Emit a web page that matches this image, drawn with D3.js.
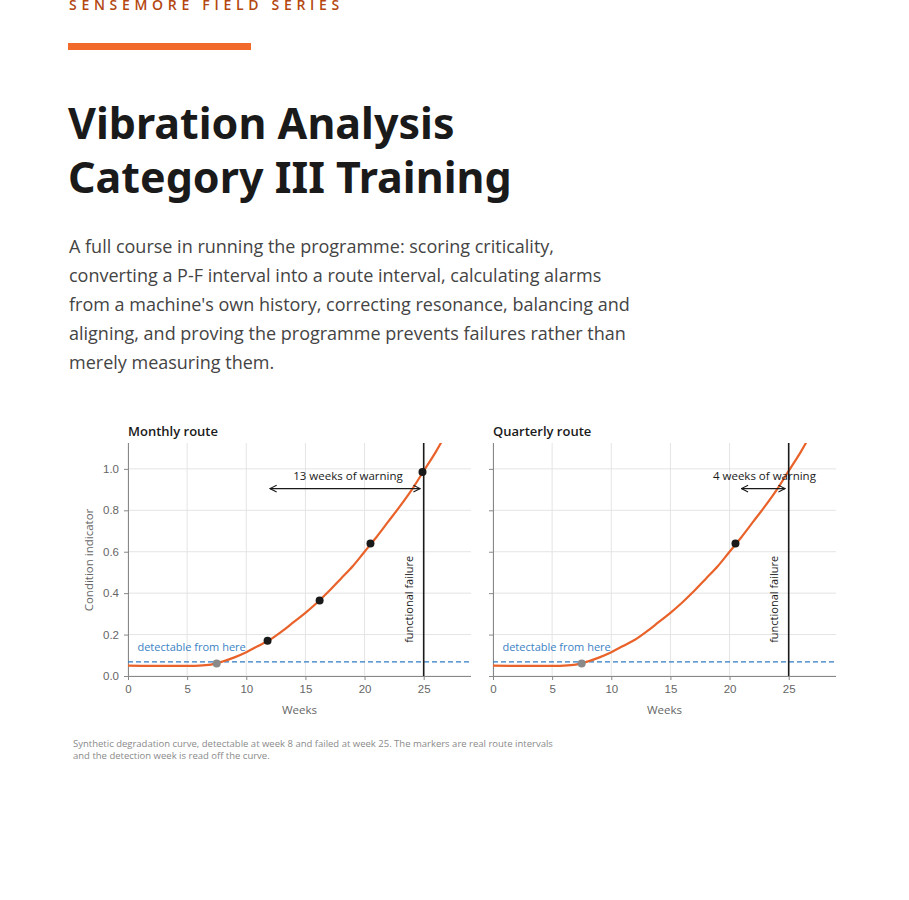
<!DOCTYPE html>
<html><head><meta charset="utf-8">
<script src="https://cdn.jsdelivr.net/npm/d3@7"></script>
<style>
body{margin:0;background:#fff;font-family:"Open Sans","Noto Sans",sans-serif;width:909px;height:900px;position:relative;overflow:hidden}
.eyebrow{position:absolute;left:69px;top:-4px;font-size:14px;letter-spacing:4.7px;color:#b3470f;font-weight:600;line-height:18px}
.bar{position:absolute;left:68px;top:43px;width:183px;height:7px;background:#f26a2a}
h1{position:absolute;left:68px;top:96px;margin:0;font-size:43px;line-height:54px;font-weight:700;color:#1a1a1a;font-family:"Noto Sans","Open Sans",sans-serif}
p{position:absolute;left:69px;top:232px;margin:0;font-size:18px;line-height:29px;color:#444;width:620px}
svg{position:absolute;left:0;top:0}
</style></head><body>
<div class="eyebrow">SENSEMORE FIELD SERIES</div>
<div class="bar"></div>
<h1>Vibration Analysis<br>Category III Training</h1>
<p>A full course in running the programme: scoring criticality,<br>converting a P-F interval into a route interval, calculating alarms<br>from a machine's own history, correcting resonance, balancing and<br>aligning, and proving the programme prevents failures rather than<br>merely measuring them.</p>
<svg id="c" width="909" height="900"></svg>
<script>
// degradation curve
var curveWeeks = [0, 6, 7, 8, 9, 10, 11, 12, 13, 14, 15, 16, 17, 18, 19, 20, 21, 22, 23, 24, 25, 26, 26.6];
var curveValues = [0.05, 0.05, 0.055, 0.07, 0.09, 0.115, 0.145, 0.175, 0.215, 0.26, 0.305, 0.355, 0.41, 0.47, 0.53, 0.6, 0.67, 0.745, 0.82, 0.9, 0.99, 1.08, 1.14];
var panelTitles = ["Monthly route", "Quarterly route"];
var routeWeeks = [[11.8, 16.2, 20.5, 24.9], [20.5]];
var routeValues = [[0.17, 0.365, 0.64, 0.985], [0.64]];
var warningFrom = [12, 21];
var warningLabels = ["13 weeks of warning", "4 weeks of warning"];
var detectWeek = 7.5, detectValue = 0.06, threshold = 0.068, failWeek = 25;
var xTicks = [0, 5, 10, 15, 20, 25], yTicks = [0, 0.2, 0.4, 0.6, 0.8, 1.0];

var svg = d3.select("#c");
var pts = curveWeeks.map(function(w, i) { return [w, curveValues[i]]; });
var offsets = [128, 493];

svg.append("defs").append("marker").attr("id", "ah").attr("viewBox", "0 0 10 10")
  .attr("refX", 9).attr("refY", 5).attr("markerWidth", 7).attr("markerHeight", 7)
  .attr("orient", "auto-start-reverse")
  .append("path").attr("d", "M1,1L9,5L1,9").attr("fill", "none").attr("stroke", "#1a1a1a").attr("stroke-width", 1.3);

offsets.forEach(function(left, p) {
  var x = d3.scaleLinear().domain([0, 29]).range([left, left + 343]);
  var y = d3.scaleLinear().domain([0, 1.125]).range([676, 443]);
  var g = svg.append("g").style("font-family", "'Open Sans','Noto Sans',sans-serif");
  var clip = "clip" + p;
  g.append("clipPath").attr("id", clip).append("rect")
    .attr("x", x(0)).attr("y", y(1.125)).attr("width", x(29) - x(0)).attr("height", y(0) - y(1.125));

  g.selectAll(".gx").data(xTicks).join("line").attr("x1", x).attr("x2", x)
    .attr("y1", y(0)).attr("y2", y(1.125)).attr("stroke", "#e4e4e4");
  g.selectAll(".gy").data(yTicks).join("line").attr("y1", y).attr("y2", y)
    .attr("x1", x(0)).attr("x2", x(29)).attr("stroke", "#e4e4e4");

  var ax = g.append("g").attr("transform", "translate(0," + y(0) + ")")
    .call(d3.axisBottom(x).tickValues(xTicks).tickSize(4).tickPadding(5));
  var ay = g.append("g").attr("transform", "translate(" + x(0) + ",0)")
    .call(d3.axisLeft(y).tickValues(yTicks).tickSize(4).tickPadding(5).tickFormat(p ? "" : d3.format(".1f")));
  [ax, ay].forEach(function(a) {
    a.selectAll("path,line").attr("stroke", "#888");
    a.selectAll("text").attr("fill", "#666").style("font-size", "11.5px");
  });
  ay.select(".domain").attr("d", "M0.5," + y(0) + "V" + y(1.125));
  ax.select(".domain").attr("d", "M" + x(0) + ",0.5H" + x(29));

  g.append("text").attr("x", x(0)).attr("y", 436).text(panelTitles[p])
    .attr("fill", "#1a1a1a").style("font-size", "13px").style("font-weight", 600);
  g.append("text").attr("x", x(14.5)).attr("y", 714).attr("text-anchor", "middle")
    .text("Weeks").attr("fill", "#666").style("font-size", "11.5px");
  if (!p) g.append("text").attr("transform", "translate(93," + y(0.56) + ") rotate(-90)")
    .attr("text-anchor", "middle").text("Condition indicator").attr("fill", "#666").style("font-size", "11.5px");

  g.append("line").attr("x1", x(0)).attr("x2", x(29)).attr("y1", y(threshold)).attr("y2", y(threshold))
    .attr("stroke", "#2f7bc4").attr("stroke-width", 1.4).attr("stroke-dasharray", "5,3");
  g.append("text").attr("x", x(0.8)).attr("y", y(0.12)).text("detectable from here")
    .attr("fill", "#3b82c4").style("font-size", "11px");

  g.append("path").datum(pts).attr("clip-path", "url(#" + clip + ")")
    .attr("d", d3.line().x(function(d) { return x(d[0]); }).y(function(d) { return y(d[1]); }).curve(d3.curveCatmullRom))
    .attr("fill", "none").attr("stroke", "#e8622a").attr("stroke-width", 2.2);

  g.append("line").attr("x1", x(failWeek)).attr("x2", x(failWeek)).attr("y1", y(0)).attr("y2", y(1.125))
    .attr("stroke", "#1a1a1a").attr("stroke-width", 1.6);
  g.append("text").attr("transform", "translate(" + (x(failWeek) - 11) + "," + y(0.16) + ") rotate(-90)")
    .text("functional failure").attr("fill", "#1a1a1a").style("font-size", "11px");

  g.append("circle").attr("cx", x(detectWeek)).attr("cy", y(detectValue)).attr("r", 4).attr("fill", "#8a8a8a");
  g.selectAll(".pt").data(routeWeeks[p]).join("circle")
    .attr("cx", function(d) { return x(d); })
    .attr("cy", function(d, i) { return y(routeValues[p][i]); })
    .attr("r", 4).attr("fill", "#1a1a1a");

  g.append("line").attr("x1", x(warningFrom[p])).attr("x2", x(failWeek - 0.3))
    .attr("y1", y(0.905)).attr("y2", y(0.905)).attr("stroke", "#1a1a1a").attr("stroke-width", 1.2)
    .attr("marker-start", "url(#ah)").attr("marker-end", "url(#ah)");
  var lt = g.append("text").attr("y", y(0.945)).text(warningLabels[p])
    .attr("fill", "#1a1a1a").style("font-size", "11.5px");
  if (p) lt.attr("x", x(27.3)).attr("text-anchor", "end");
  else lt.attr("x", x(18.6)).attr("text-anchor", "middle");
});

svg.append("text").attr("x", 73).attr("y", 747).attr("fill", "#8a8a8a").style("font-size", "9.5px")
  .style("font-family", "'Open Sans','Noto Sans',sans-serif")
  .text("Synthetic degradation curve, detectable at week 8 and failed at week 25. The markers are real route intervals");
svg.append("text").attr("x", 73).attr("y", 759).attr("fill", "#8a8a8a").style("font-size", "9.5px")
  .style("font-family", "'Open Sans','Noto Sans',sans-serif")
  .text("and the detection week is read off the curve.");
</script>
</body></html>
